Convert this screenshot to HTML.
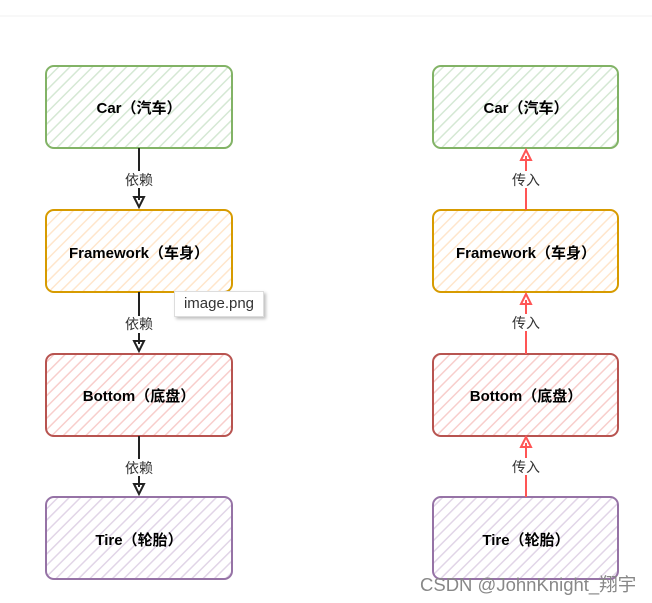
<!DOCTYPE html>
<html><head><meta charset="utf-8"><style>
body{margin:0;background:#fff;width:652px;height:603px;overflow:hidden;position:relative;font-family:"Liberation Sans","Noto Sans CJK SC",sans-serif}
.tip{position:absolute;left:174px;top:291px;width:88px;height:24px;background:#fff;border:1px solid #ddd;box-shadow:2px 2px 3px rgba(0,0,0,.25);font-size:15px;color:#333;line-height:23px;text-align:center}
.wm{position:absolute;left:420px;top:571px;font-size:18.5px;color:#888;white-space:nowrap}
</style></head><body>
<svg width="652" height="603" xmlns="http://www.w3.org/2000/svg" style="position:absolute;left:0;top:0">
<defs>
<pattern id="pg" width="8" height="8" patternUnits="userSpaceOnUse" patternTransform="rotate(45)"><rect width="8" height="8" fill="#fff"/><line x1="0" y1="0" x2="0" y2="8" stroke="#d5e8d4" stroke-width="3"/></pattern>
<pattern id="po" width="8" height="8" patternUnits="userSpaceOnUse" patternTransform="rotate(45)"><rect width="8" height="8" fill="#fff"/><line x1="0" y1="0" x2="0" y2="8" stroke="#ffe6cc" stroke-width="3"/></pattern>
<pattern id="pr" width="8" height="8" patternUnits="userSpaceOnUse" patternTransform="rotate(45)"><rect width="8" height="8" fill="#fff"/><line x1="0" y1="0" x2="0" y2="8" stroke="#f8cecc" stroke-width="3"/></pattern>
<pattern id="pp" width="8" height="8" patternUnits="userSpaceOnUse" patternTransform="rotate(45)"><rect width="8" height="8" fill="#fff"/><line x1="0" y1="0" x2="0" y2="8" stroke="#e1d5e7" stroke-width="3"/></pattern>
</defs>
<line x1="0" y1="16" x2="652" y2="16" stroke="#f2f2f2"/>
<g stroke-width="2" font-family="Liberation Sans,Noto Sans CJK SC,sans-serif" font-weight="bold" font-size="15" text-anchor="middle">
<rect x="46" y="66" width="186" height="82" rx="8" fill="url(#pg)" stroke="#82b366"/>
<rect x="46" y="210" width="186" height="82" rx="8" fill="url(#po)" stroke="#d79b00"/>
<rect x="46" y="354" width="186" height="82" rx="8" fill="url(#pr)" stroke="#b85450"/>
<rect x="46" y="497" width="186" height="82" rx="8" fill="url(#pp)" stroke="#9673a6"/>
<rect x="433" y="66" width="185" height="82" rx="8" fill="url(#pg)" stroke="#82b366"/>
<rect x="433" y="210" width="185" height="82" rx="8" fill="url(#po)" stroke="#d79b00"/>
<rect x="433" y="354" width="185" height="82" rx="8" fill="url(#pr)" stroke="#b85450"/>
<rect x="433" y="497" width="185" height="82" rx="8" fill="url(#pp)" stroke="#9673a6"/>
<g stroke="none" fill="#000">
<text x="139" y="113">Car（汽车）</text><text x="139" y="258">Framework（车身）</text><text x="139" y="401">Bottom（底盘）</text><text x="139" y="545">Tire（轮胎）</text>
<text x="526" y="113">Car（汽车）</text><text x="526" y="258">Framework（车身）</text><text x="526" y="401">Bottom（底盘）</text><text x="526" y="545">Tire（轮胎）</text>
</g>
</g>
<g stroke="#222" stroke-width="2" fill="none">
<line x1="139" y1="148" x2="139" y2="200"/><path d="M134 197 L139 207 L144 197 Z"/>
<line x1="139" y1="292" x2="139" y2="344"/><path d="M134 341 L139 351 L144 341 Z"/>
<line x1="139" y1="436" x2="139" y2="487"/><path d="M134 484 L139 494 L144 484 Z"/>
</g>
<g stroke="#f55" stroke-width="2" fill="none">
<line x1="526" y1="210" x2="526" y2="156"/><path d="M521 160 L526 150 L531 160 Z"/>
<line x1="526" y1="354" x2="526" y2="300"/><path d="M521 304 L526 294 L531 304 Z"/>
<line x1="526" y1="497" x2="526" y2="443"/><path d="M521 447 L526 437 L531 447 Z"/>
</g>
<g font-family="Liberation Sans,Noto Sans CJK SC,sans-serif" font-size="14" text-anchor="middle" fill="#333">
<rect x="121" y="171" width="36" height="17" fill="#fff"/><text x="139" y="185">依赖</text>
<rect x="121" y="316" width="36" height="17" fill="#fff"/><text x="139" y="329">依赖</text>
<rect x="121" y="459" width="36" height="17" fill="#fff"/><text x="139" y="473">依赖</text>
<rect x="508" y="171" width="36" height="17" fill="#fff"/><text x="526" y="185">传入</text>
<rect x="508" y="314" width="36" height="17" fill="#fff"/><text x="526" y="328">传入</text>
<rect x="508" y="458" width="36" height="17" fill="#fff"/><text x="526" y="472">传入</text>
</g>
</svg>
<div class="tip">image.png</div>
<div class="wm">CSDN @JohnKnight_翔宇</div>
</body></html>
